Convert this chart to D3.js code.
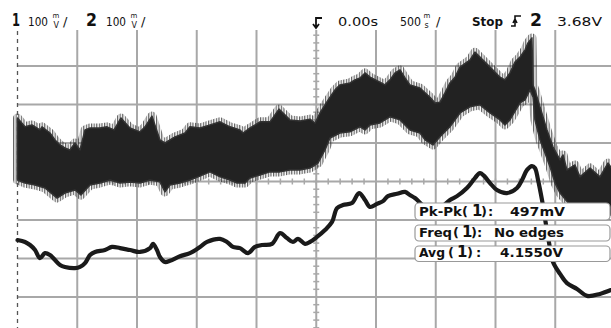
<!DOCTYPE html>
<html>
<head>
<meta charset="utf-8">
<script src="https://cdn.jsdelivr.net/npm/d3@7"></script>
<style>
html,body{margin:0;padding:0;background:#fff;}
svg{display:block;}
text{font-family:"DejaVu Sans",sans-serif;fill:#111;}
</style>
</head>
<body>
<svg id="chart" width="611" height="328"></svg>
<script>
// ---- data (time in ms from trigger, voltage in mV from screen centre) ----
const timeRange = [-2500, 2500];      // 500 ms/div, 10 div
const voltRange = [-400, 400];        // 100 mV/div, 8 div
const timeGrid = [-2000,-1500,-1000,-500,0,500,1000,1500,2000];
const voltGrid = [-300,-200,-100,0,100,200,300];

// Channel 1 noisy band: upper and lower envelope [t, mV]
const ch1Upper = [[-2500,165],[-2437,142],[-2379,147],[-2312,134],[-2295,142],[-2228,126],[-2186,108],[-2144,95],[-2103,87],[-2061,82],[-2019,100],[-1977,82],[-1935,134],[-1893,139],[-1810,139],[-1751,142],[-1692,134],[-1634,165],[-1559,139],[-1475,129],[-1433,142],[-1375,170],[-1308,108],[-1266,100],[-1182,116],[-1098,126],[-1057,142],[-973,139],[-889,147],[-805,155],[-722,142],[-638,134],[-613,126],[-554,139],[-471,155],[-387,155],[-312,188],[-220,160],[-136,157],[-52,162],[-10,152],[31,178],[73,199],[115,219],[157,238],[199,251],[282,256],[324,264],[366,269],[408,282],[450,271],[533,258],[575,251],[617,264],[659,282],[701,290],[743,269],[784,251],[868,243],[952,219],[994,204],[1036,206],[1077,230],[1119,256],[1161,271],[1203,297],[1287,316],[1328,336],[1370,323],[1454,297],[1538,271],[1579,264],[1621,282],[1663,310],[1705,323],[1747,342],[1772,360],[1805,373],[1814,250],[1830,238],[1872,194],[1931,134],[1981,90],[2040,56],[2065,69],[2098,30],[2165,43],[2207,12],[2291,35],[2374,12],[2441,48],[2500,22]];
const ch1Lower = [[-2500,4],[-2437,-4],[-2353,-9],[-2270,-17],[-2169,-43],[-2103,-30],[-2019,-22],[-1969,-35],[-1893,-9],[-1810,-4],[-1726,4],[-1642,-4],[-1559,-1],[-1475,-4],[-1391,4],[-1308,-1],[-1266,-27],[-1224,-9],[-1140,-4],[-1057,4],[-973,14],[-889,25],[-805,12],[-722,4],[-663,-4],[-596,-4],[-554,9],[-471,17],[-387,25],[-303,25],[-220,30],[-136,30],[-52,35],[15,48],[73,82],[115,113],[199,126],[282,129],[366,142],[408,134],[450,147],[533,152],[617,168],[701,160],[784,134],[868,126],[910,108],[977,95],[1036,116],[1119,142],[1203,178],[1287,194],[1370,199],[1454,178],[1538,160],[1579,147],[1621,160],[1705,204],[1747,212],[1789,238],[1814,219],[1830,160],[1872,108],[1914,74],[1956,38],[1998,-4],[2040,-30],[2123,-61],[2207,-79],[2291,-87],[2500,-87]];

// Channel 2 trace [t, mV]
const ch2 = [[-2500,-152],[-2437,-157],[-2395,-165],[-2353,-178],[-2312,-199],[-2270,-186],[-2228,-191],[-2186,-204],[-2144,-217],[-2103,-222],[-2019,-225],[-1977,-222],[-1935,-212],[-1893,-191],[-1851,-183],[-1768,-178],[-1709,-170],[-1642,-173],[-1559,-178],[-1475,-183],[-1391,-173],[-1366,-162],[-1333,-178],[-1308,-196],[-1266,-209],[-1224,-206],[-1140,-194],[-1057,-186],[-973,-170],[-914,-157],[-805,-149],[-747,-157],[-697,-170],[-638,-173],[-571,-186],[-513,-170],[-454,-165],[-370,-162],[-303,-134],[-245,-147],[-195,-157],[-153,-149],[-94,-162],[-52,-157],[6,-144],[73,-126],[132,-105],[174,-69],[224,-61],[299,-56],[358,-30],[408,-48],[450,-66],[508,-58],[559,-51],[600,-38],[676,-32],[743,-27],[784,-35],[826,-43],[910,-66],[969,-74],[1036,-69],[1119,-48],[1178,-38],[1261,-17],[1328,9],[1370,22],[1412,12],[1454,-4],[1512,-22],[1596,-30],[1680,-17],[1722,4],[1764,30],[1805,40],[1830,35],[1856,4],[1889,-48],[1923,-113],[1956,-173],[1981,-209],[2040,-240],[2098,-264],[2182,-279],[2266,-297],[2374,-292],[2466,-282]];

// Measurements
const measurements = [
  {name:"Pk-Pk", ch:"1", value:"497mV"},
  {name:"Freq",  ch:"1", value:"No edges"},
  {name:"Avg",   ch:"1", value:"4.1550V"}
];

// ---- drawing ----
const svg = d3.select("#chart");
const x = d3.scaleLinear().domain(timeRange).range([17.5, 615]);
const y = d3.scaleLinear().domain(voltRange).range([335.5, 27.5]);
const gridColor = "#a8a8a8";

// vertical-stripe pattern used to give the noisy band hairy edges
const defs = svg.append("defs");
const pat = defs.append("pattern").attr("id", "noise").attr("patternUnits", "userSpaceOnUse")
  .attr("width", 2.6).attr("height", 9);
pat.append("rect").attr("width", 1.2).attr("height", 9).attr("fill", "#2a2a2a");

const grid = svg.append("g");
grid.selectAll("line.v").data(timeGrid).join("line")
  .attr("x1", d => x(d)).attr("x2", d => x(d))
  .attr("y1", 30).attr("y2", 328)
  .attr("stroke", gridColor).attr("stroke-width", 2);
grid.selectAll("line.h").data(voltGrid).join("line")
  .attr("x1", x(-2500)).attr("x2", 611)
  .attr("y1", d => y(d)).attr("y2", d => y(d))
  .attr("stroke", gridColor).attr("stroke-width", 2);
grid.append("line")
  .attr("x1", x(-2500)).attr("x2", x(-2500)).attr("y1", 31).attr("y2", 328)
  .attr("stroke", "#555").attr("stroke-width", 1.3).attr("stroke-dasharray", "4,4");
grid.selectAll("line.mx").data(d3.range(-2400, 2500, 100)).join("line")
  .attr("x1", d => x(d)).attr("x2", d => x(d))
  .attr("y1", y(0) - 3).attr("y2", y(0) + 3)
  .attr("stroke", gridColor).attr("stroke-width", 1.5);
grid.selectAll("line.my").data(d3.range(-380, 400, 20)).join("line")
  .attr("x1", x(0) - 3).attr("x2", x(0) + 3)
  .attr("y1", d => y(d)).attr("y2", d => y(d))
  .attr("stroke", gridColor).attr("stroke-width", 1.5);

// channel 1 band
const line = d3.line().x(d => x(d[0])).y(d => y(d[1]));
const band = ch1Upper.concat(ch1Lower.slice().reverse());
const bandD = line(band) + "Z";
svg.append("path").attr("d", bandD)
  .attr("fill", "none").attr("stroke", "url(#noise)").attr("stroke-width", 9)
  .attr("stroke-linejoin", "round").attr("opacity", 0.75);
svg.append("path").attr("d", bandD)
  .attr("fill", "#222").attr("stroke", "#333").attr("stroke-width", 1.5)
  .attr("stroke-linejoin", "round");

// channel 2 trace
svg.append("path")
  .attr("d", d3.line().x(d => x(d[0])).y(d => y(d[1])).curve(d3.curveCatmullRom)(ch2))
  .attr("fill", "none").attr("stroke", "#1a1a1a").attr("stroke-width", 4.2)
  .attr("stroke-linejoin", "round").attr("stroke-linecap", "round");

// measurement boxes
const boxes = [{y:203,h:17,base:215.5},{y:225,h:16,base:237},{y:246,h:15.5,base:257}];
const chX = [[462,472,481,488,510],[453,462,471,477,494],[448,457,467,476,500]];
const valLen = [55, 70, 63];
const nameLen = [43, 33, 26];
const mg = svg.append("g");
measurements.forEach((m, i) => {
  const b = boxes[i];
  mg.append("rect").attr("x", 415).attr("y", b.y).attr("width", 195).attr("height", b.h)
    .attr("rx", 4).attr("fill", "#fff").attr("stroke", "#999").attr("stroke-width", 1.2);
  const t = (txt, xx, opts = {}) => mg.append("text").attr("x", xx).attr("y", b.base)
    .attr("font-size", opts.size || 13).attr("font-weight", "bold").text(txt)
    .call(s => { if (opts.len) s.attr("textLength", opts.len).attr("lengthAdjust", "spacingAndGlyphs"); });
  t(m.name, 419, {len: nameLen[i]});
  t("(", chX[i][0]);
  t(m.ch, chX[i][1], {size: 15});
  t(")", chX[i][2]);
  t(":", chX[i][3]);
  t(m.value, chX[i][4], {len: valLen[i]});
});

// header
const hg = svg.append("g");
const ht = (txt, xx, yy, size, weight, len) => {
  const s = hg.append("text").attr("x", xx).attr("y", yy).attr("font-size", size)
    .attr("font-weight", weight || "normal").text(txt);
  if (len) s.attr("textLength", len).attr("lengthAdjust", "spacingAndGlyphs");
  return s;
};
// stacked unit glyph, e.g. m over V
const unit = (top, bottom, xx) => {
  const s = hg.append("text").attr("x", xx).attr("y", 18.5);
  s.append("tspan").attr("x", xx).attr("y", 18.3).attr("font-size", 7).text(top);
  s.append("tspan").attr("x", xx + 1).attr("y", 28).attr("font-size", 8).text(bottom);
};
ht("1", 12, 26, 17, "bold", 8);
ht("100", 28, 26, 12, "normal", 20);
unit("m", "V", 52.5);
ht("/", 63, 26, 13);
ht("2", 86, 26, 17, "bold", 11);
ht("100", 106, 26, 12, "normal", 20);
unit("m", "V", 130.5);
ht("/", 141, 26, 13);

ht("0.00s", 338, 26, 13, "normal", 40);
ht("500", 400, 26, 13, "normal", 21);
unit("m", "s", 423.5);
ht("/", 436, 26, 13);
ht("Stop", 472, 26, 13, "bold", 31);
ht("2", 530, 26, 17, "bold", 12);
ht("3.68V", 557, 26, 13, "normal", 45);

// trigger position marker
hg.append("path").attr("d", "M322,18H316V27M313,24L316,28L319,24")
  .attr("fill", "none").attr("stroke", "#111").attr("stroke-width", 1.8);
// trigger edge symbol
hg.append("path").attr("d", "M511,26H515V16H521M513,23L515,19L517,23")
  .attr("fill", "none").attr("stroke", "#111").attr("stroke-width", 1.6);
</script>
</body>
</html>
